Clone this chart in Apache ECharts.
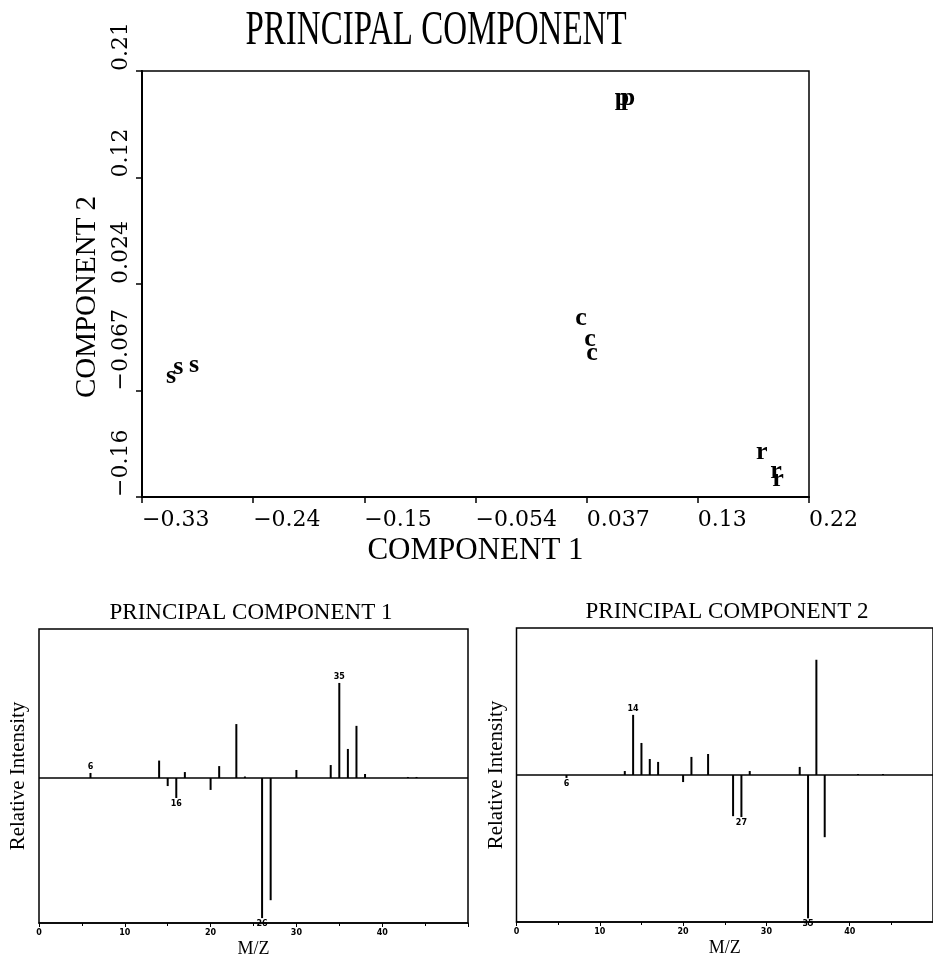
<!DOCTYPE html>
<html>
<head>
<meta charset="utf-8">
<script src="https://cdn.jsdelivr.net/npm/echarts@6/dist/echarts.min.js"></script>
<style>
  html, body { margin: 0; padding: 0; background: #fff; }
  #chart { width: 933px; height: 959px; }
</style>
</head>
<body>
<div id="chart"></div>
<script>
// ---- Score plot: component 1 vs component 2, one letter per sample ----
const sX = [-0.306, -0.300, -0.287];
const sY = [-0.054, -0.0465, -0.0448];
const cX = [0.032, 0.0394, 0.041];
const cY = [-0.004, -0.0222, -0.0344];
const pX = [0.0658, 0.0708];
const pY = [0.1875, 0.1875];
const rX = [0.181, 0.1928, 0.1945];
const rY = [-0.120, -0.1366, -0.1435];

const xTickValues = [-0.33, -0.23833, -0.14667, -0.055, 0.03667, 0.12833, 0.22];
const xTickLabels = ['\u22120.33', '\u22120.24', '\u22120.15', '\u22120.054', '0.037', '0.13', '0.22'];
const yTickValues = [-0.16, -0.0675, 0.025, 0.1175, 0.21];
const yTickLabels = ['\u22120.16', '\u22120.067', '0.024', '0.12', '0.21'];

// ---- Loading spectra: m/z and signed relative intensity ----
const pc1Mass      = [6, 14, 15, 16, 17, 20, 21, 23, 24, 26, 27, 30, 34, 35, 36, 37, 38, 43, 44];
const pc1Intensity = [3.4, 11.7, -5.4, -13.4, 4, -8, 8, 36.2, 1, -94, -82, 5.4, 8.7, 63.8, 19.5, 35, 2.7, 0.7, 0.7];
const pc1Marked    = [6, 16, 26, 35];

const pc2Mass      = [6, 13, 14, 15, 16, 17, 20, 21, 23, 26, 27, 28, 34, 35, 36, 37, 41, 44];
const pc2Intensity = [-2, 2.7, 40.9, 21.8, 10.9, 8.9, -4.8, 12.3, 14.3, -28, -28.6, 2.7, 5.5, -97.5, 78.4, -42.3, 0.7, 0.7];
const pc2Marked    = [6, 14, 27, 35];

const SERIF = '"Liberation Serif", "DejaVu Serif", serif';
const TICK_SERIF = '"DejaVu Serif", serif';

function tickText(values, labels, v) {
  const i = values.findIndex(t => Math.abs(t - v) < 1e-6);
  return i >= 0 ? labels[i] : '';
}

function letterSeries(xs, ys, letter) {
  return {
    type: 'scatter',
    xAxisIndex: 0, yAxisIndex: 0,
    symbol: 'circle',
    symbolSize: 2,
    itemStyle: { color: 'rgba(0,0,0,0)', opacity: 1 },
    label: {
      show: true,
      position: 'inside',
      formatter: () => letter,
      color: '#000',
      opacity: 1,
      fontFamily: SERIF,
      fontWeight: 'bold',
      fontSize: 26,
      offset: [0, 1]
    },
    silent: true,
    data: xs.map((x, i) => [x, ys[i]])
  };
}

function spectrumSeries(axis, masses, values, marked) {
  return {
    type: 'bar',
    xAxisIndex: axis, yAxisIndex: axis,
    barWidth: 2,
    itemStyle: { color: '#000' },
    silent: true,
    data: masses.map((m, i) => {
      const v = values[i];
      const item = { value: [m, v] };
      if (marked.includes(m)) {
        item.label = {
          show: true,
          position: v >= 0 ? 'top' : 'bottom',
          distance: 2,
          formatter: String(m),
          color: '#000',
          fontSize: 8,
          fontWeight: 'bold',
          fontFamily: '"DejaVu Sans", sans-serif'
        };
      }
      return item;
    }),
    markLine: {
      silent: true,
      symbol: 'none',
      label: { show: false },
      lineStyle: { color: '#000', width: 1.5, type: 'solid' },
      data: [{ yAxis: 0 }]
    }
  };
}

function massAxis(grid) {
  return {
    type: 'value', gridIndex: grid,
    min: 0, max: 50, interval: 10,
    axisLine: { show: true, onZero: false, lineStyle: { color: '#000', width: 1.5 } },
    axisTick: { show: true, length: 4, lineStyle: { color: '#000' } },
    minorTick: { show: true, splitNumber: 2, length: 3, lineStyle: { color: '#000' } },
    axisLabel: {
      showMaxLabel: false, margin: 6, color: '#000',
      fontSize: 8, fontWeight: 'bold', fontFamily: '"DejaVu Sans", sans-serif'
    },
    splitLine: { show: false },
    name: 'M/Z', nameLocation: 'middle', nameGap: 17,
    nameTextStyle: { color: '#000', fontSize: 18, fontFamily: SERIF }
  };
}

function intensityAxis(grid, min, max) {
  return {
    type: 'value', gridIndex: grid,
    min: min, max: max,
    axisLine: { show: false },
    axisTick: { show: false },
    axisLabel: { show: false },
    splitLine: { show: false },
    name: 'Relative Intensity', nameLocation: 'middle', nameGap: 10,
    nameTextStyle: { color: '#000', fontSize: 21, fontFamily: SERIF }
  };
}

const chart = echarts.init(document.getElementById('chart'), null, { renderer: 'canvas' });

chart.setOption({
  backgroundColor: '#fff',
  animation: false,
  title: [
    {
      text: 'PRINCIPAL COMPONENT 1',
      left: 251, top: 601, textAlign: 'center', padding: 0,
      textStyle: { color: '#000', fontSize: 23, fontWeight: 'normal', fontFamily: SERIF }
    },
    {
      text: 'PRINCIPAL COMPONENT 2',
      left: 727, top: 600, textAlign: 'center', padding: 0,
      textStyle: { color: '#000', fontSize: 23, fontWeight: 'normal', fontFamily: SERIF }
    }
  ],
  graphic: [
    {
      type: 'text',
      x: 436, y: 31,
      scaleY: 1.45,
      silent: true,
      style: {
        text: 'PRINCIPAL COMPONENT',
        fill: '#000',
        font: '33px "Liberation Serif", serif',
        align: 'center',
        verticalAlign: 'middle'
      }
    }
  ],
  grid: [
    { left: 142, top: 71, width: 667, height: 426, show: true, borderColor: '#000', borderWidth: 1.5, backgroundColor: 'transparent' },
    { left: 39, top: 629, width: 429, height: 294, show: true, borderColor: '#000', borderWidth: 1.5, backgroundColor: 'transparent' },
    { left: 516.5, top: 628, width: 428, height: 294, show: true, borderColor: '#000', borderWidth: 1.5, backgroundColor: 'transparent' }
  ],
  xAxis: [
    {
      type: 'value', gridIndex: 0,
      min: -0.33, max: 0.22,
      axisLine: { show: true, onZero: false, lineStyle: { color: '#000', width: 2 } },
      axisTick: { show: true, customValues: xTickValues, length: 6, lineStyle: { color: '#000', width: 1.5 } },
      axisLabel: {
        customValues: xTickValues,
        formatter: v => tickText(xTickValues, xTickLabels, v),
        align: 'left', margin: 12, color: '#000',
        fontSize: 22, fontFamily: TICK_SERIF
      },
      splitLine: { show: false },
      name: 'COMPONENT 1', nameLocation: 'middle', nameGap: 38,
      nameTextStyle: { color: '#000', fontSize: 31, fontFamily: SERIF }
    },
    massAxis(1),
    massAxis(2)
  ],
  yAxis: [
    {
      type: 'value', gridIndex: 0,
      min: -0.16, max: 0.21,
      axisLine: { show: true, onZero: false, lineStyle: { color: '#000', width: 2 } },
      axisTick: { show: true, customValues: yTickValues, length: 6, lineStyle: { color: '#000', width: 1.5 } },
      axisLabel: {
        customValues: yTickValues,
        formatter: v => tickText(yTickValues, yTickLabels, v),
        rotate: 90, align: 'left', margin: 10, color: '#000',
        fontSize: 22, fontFamily: TICK_SERIF
      },
      splitLine: { show: false },
      name: 'COMPONENT 2', nameLocation: 'middle', nameGap: 27,
      nameTextStyle: { color: '#000', fontSize: 29, fontFamily: SERIF, padding: [0, 26, 0, 0] }
    },
    intensityAxis(1, -97.3, 100),
    intensityAxis(2, -100, 100)
  ],
  series: [
    letterSeries(sX, sY, 's'),
    letterSeries(cX, cY, 'c'),
    letterSeries(pX, pY, 'p'),
    letterSeries(rX, rY, 'r'),
    spectrumSeries(1, pc1Mass, pc1Intensity, pc1Marked),
    spectrumSeries(2, pc2Mass, pc2Intensity, pc2Marked)
  ]
});
</script>
</body>
</html>
